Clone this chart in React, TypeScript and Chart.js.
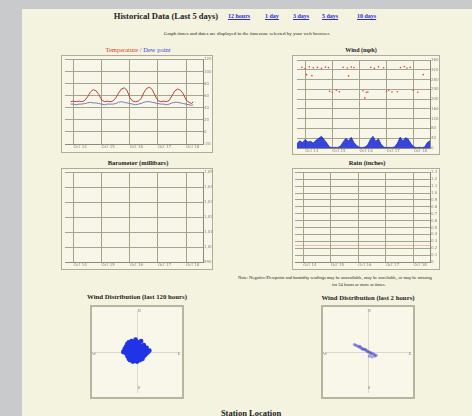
import React, { useEffect, useRef } from "react";
import { Chart, registerables } from "chart.js";

Chart.register(...registerables);

// ---------- data ----------
const dayTickPositions = [0.3, 1.3, 2.3, 3.3, 4.3];
const dayTickLabels = ["Oct 14", "Oct 15", "Oct 16", "Oct 17", "Oct 18"];

const tempDays = [0.2, 0.3, 0.4, 0.5, 0.6, 0.7, 0.8, 0.9, 1.0, 1.1, 1.2, 1.3, 1.4, 1.5, 1.6, 1.7, 1.8, 1.9, 2.0, 2.1, 2.2, 2.3, 2.4, 2.5, 2.6, 2.7, 2.8, 2.9, 3.0, 3.1, 3.2, 3.3, 3.4, 3.5, 3.6, 3.7, 3.8, 3.9, 4.0, 4.1, 4.2, 4.3, 4.4, 4.5, 4.55];
const temperature = [50, 51, 50, 51, 50, 52, 58, 66, 70, 68, 62, 53, 50, 51, 50, 51, 56, 64, 71, 73, 69, 57, 51, 50, 51, 55, 65, 72, 74, 70, 60, 52, 50, 51, 50, 52, 60, 68, 71, 69, 63, 53, 49, 47, 50];
const dewPoint = [46, 46, 45, 46, 46, 47, 48, 49, 48, 48, 47, 46, 45, 46, 46, 46, 47, 49, 50, 49, 48, 47, 46, 45, 46, 47, 49, 50, 50, 49, 48, 47, 46, 46, 45, 46, 48, 49, 49, 48, 47, 46, 45, 44, 45];

const windDirDays = [0.18, 0.3, 0.45, 0.6, 0.75, 0.9, 1.05, 1.16, 0.35, 0.55, 1.2, 1.3, 1.45, 1.56, 1.7, 1.85, 2.0, 2.1, 1.9, 2.43, 2.55, 2.61, 2.72, 2.85, 3.0, 3.19, 3.3, 3.38, 3.5, 3.7, 3.81, 3.95, 4.05, 4.17, 4.28, 4.45, 4.65, 2.5];
const windDirection = [330, 325, 332, 328, 330, 326, 331, 329, 300, 296, 232, 228, 236, 230, 330, 327, 331, 329, 295, 234, 228, 229, 330, 326, 332, 328, 232, 236, 229, 230, 329, 333, 327, 330, 236, 228, 300, 205];

const windSpeedDays = [0.0, 0.1, 0.2, 0.3, 0.4, 0.5, 0.6, 0.7, 0.8, 0.9, 1.0, 1.1, 1.2, 1.3, 1.4, 1.5, 1.6, 1.7, 1.8, 1.9, 2.0, 2.1, 2.2, 2.3, 2.4, 2.5, 2.6, 2.7, 2.8, 2.9, 3.0, 3.1, 3.2, 3.3, 3.4, 3.5, 3.6, 3.7, 3.8, 3.9, 4.0, 4.1, 4.2, 4.3, 4.4, 4.5, 4.6, 4.7, 4.8, 4.9];
const windSpeed = [18, 30, 22, 35, 25, 28, 20, 32, 40, 48, 35, 20, 4, 2, 3, 2, 8, 25, 40, 30, 44, 22, 10, 3, 2, 4, 12, 35, 48, 28, 38, 15, 4, 2, 3, 2, 5, 20, 45, 30, 42, 36, 18, 5, 2, 3, 2, 4, 22, 30];

const baroDays: number[] = [];
const barometer: number[] = [];

const rainDays = [0.0, 1.0, 2.0, 3.0, 4.0, 4.9];
const rainTotal = [0.24, 0.24, 0.24, 0.24, 0.24, 0.24];

const roseLongX = [-9, -8, -8, -7, -7, -7, -6, -6, -6, -6, -5, -5, -5, -5, -4, -4, -4, -4, -3, -3, -3, -3, -2, -2, -2, -2, -1, -1, -1, -1, -1, 0, 0, 0, 0, 1, 1, 1, 1, 2, 2, 2, 2, 3, 3, 3, 3, 4, 4, 4, 5, 5, 5, 6, 6, 7, 7, 8, -10, 9];
const roseLongY = [2, -1, 4, -3, 1, 6, -5, -1, 3, 7, -6, -2, 2, 5, -4, 0, 4, 8, -7, -2, 1, 6, -5, -1, 3, 7, -6, -3, 0, 4, 9, -7, -2, 2, 6, -5, -1, 3, 7, -6, -3, 1, 5, -4, 0, 4, 8, -5, -1, 3, -3, 1, 5, -2, 2, -1, 3, 0, 0, 1];

const roseShortX = [-10, -9, -8, -7, -6, -5, -4, -3, -2, -1, 0, 1, 2, 3, 4, 5, 6, -6, -4, -2, 0, 2, 1, 3, 5];
const roseShortY = [5.5, 5, 4.5, 4, 3.5, 3, 2.5, 2, 1.5, 1, 0.5, 0, -0.5, -1, -1.5, -2, -2.5, 4.2, 2, 2, 0, -1.2, -3, -3.5, -3];

// ---------- helpers ----------
const GRID = "#a4a38c";
const AXIS = "#8c8b76";
const TICK_FONT = { size: 4, family: "DejaVu Sans" };

function pairs(xs: number[], ys: number[]) {
  return xs.map((x, i) => ({ x, y: ys[i] }));
}

function seriesOptions(
  yMin: number,
  yMax: number,
  yStep: number,
  padLeft: number,
  padTop: number,
  xAxisH: number,
  yAxisW: number
): any {
  return {
    animation: false,
    responsive: false,
    events: [],
    layout: { padding: { left: padLeft, top: padTop, right: 0, bottom: 0 } },
    plugins: { legend: { display: false }, tooltip: { enabled: false } },
    scales: {
      x: {
        type: "linear",
        min: 0,
        max: 4.9,
        afterBuildTicks: (s: any) => {
          s.ticks = dayTickPositions.map((v) => ({ value: v }));
        },
        afterFit: (s: any) => {
          s.height = xAxisH;
        },
        grid: { color: GRID, lineWidth: 1, drawTicks: false },
        border: { color: AXIS },
        ticks: {
          align: "start",
          padding: 1,
          maxRotation: 0,
          autoSkip: false,
          font: TICK_FONT,
          color: "#8a897c",
          callback: (_v: any, i: number) => dayTickLabels[i],
        },
      },
      y: {
        position: "right",
        min: yMin,
        max: yMax,
        afterFit: (s: any) => {
          s.width = yAxisW;
        },
        grid: { color: GRID, lineWidth: 1, drawTicks: false },
        border: { color: AXIS },
        ticks: {
          stepSize: yStep,
          maxTicksLimit: 30,
          autoSkip: false,
          padding: 1,
          font: TICK_FONT,
          color: "#8a897c",
        },
      },
    },
  };
}

function roseOptions(): any {
  const zeroGrid = (ctx: any) =>
    ctx.tick && ctx.tick.value === 0 ? "rgba(150,150,135,0.3)" : "rgba(0,0,0,0)";
  return {
    animation: false,
    responsive: false,
    events: [],
    layout: { padding: 0 },
    plugins: { legend: { display: false }, tooltip: { enabled: false } },
    scales: {
      x: {
        type: "linear",
        min: -30,
        max: 30,
        ticks: { display: false, stepSize: 10 },
        border: { display: false },
        grid: { drawTicks: false, color: zeroGrid },
        afterFit: (s: any) => {
          s.height = 0;
        },
      },
      y: {
        type: "linear",
        min: -30,
        max: 30,
        ticks: { display: false, stepSize: 10 },
        border: { display: false },
        grid: { drawTicks: false, color: zeroGrid },
        afterFit: (s: any) => {
          s.width = 0;
        },
      },
    },
  };
}

function ChartBox(props: {
  left: number;
  top: number;
  width: number;
  height: number;
  border: number;
  borderColor: string;
  bg: string;
  build: () => any;
}) {
  const ref = useRef<HTMLCanvasElement>(null);
  const { left, top, width, height, border, borderColor, bg, build } = props;
  const cw = width - 2 * border;
  const ch = height - 2 * border;
  useEffect(() => {
    const chart = new Chart(ref.current as HTMLCanvasElement, build());
    return () => chart.destroy();
  }, []);
  return (
    <div
      style={{
        position: "absolute",
        left,
        top,
        width,
        height,
        boxSizing: "border-box",
        border: `${border}px solid ${borderColor}`,
        background: bg,
      }}
    >
      <canvas ref={ref} width={cw} height={ch} style={{ display: "block", width: cw, height: ch }} />
    </div>
  );
}

function Txt(props: {
  x: number;
  y: number;
  size: number;
  bold?: boolean;
  color?: string;
  center?: boolean;
  children: React.ReactNode;
  underline?: boolean;
}) {
  const { x, y, size, bold, color, center, children, underline } = props;
  return (
    <div
      style={{
        position: "absolute",
        left: x,
        top: y - size / 2,
        fontSize: size,
        lineHeight: `${size}px`,
        fontWeight: bold ? "bold" : "normal",
        color: color || "#1e1e1e",
        whiteSpace: "nowrap",
        transform: center ? "translateX(-50%)" : undefined,
        textDecoration: underline ? "underline" : "none",
      }}
    >
      {children}
    </div>
  );
}

export default function App() {
  const LINK = "#2b2bd6";
  return (
    <div
      style={{
        position: "fixed",
        left: 0,
        top: 0,
        width: 472,
        height: 416,
        overflow: "hidden",
        background: "#c9cacc",
        fontFamily: "'Liberation Serif', 'DejaVu Serif', serif",
      }}
    >
      <div
        style={{
          position: "absolute",
          left: 22,
          top: 9,
          width: 450,
          height: 407,
          background: "#f4f3df",
        }}
      />

      {/* header */}
      <Txt x={166} y={16} size={8.5} bold center>
        Historical Data (Last 5 days)
      </Txt>
      <Txt x={228} y={16} size={6} bold color={LINK} underline>12 hours</Txt>
      <Txt x={265} y={16} size={6} bold color={LINK} underline>1 day</Txt>
      <Txt x={293} y={16} size={6} bold color={LINK} underline>3 days</Txt>
      <Txt x={322} y={16} size={6} bold color={LINK} underline>5 days</Txt>
      <Txt x={357} y={16} size={6} bold color={LINK} underline>10 days</Txt>
      <Txt x={247} y={33} size={5} center>
        Graph times and dates are displayed in the timezone selected by your web browser.
      </Txt>

      {/* chart titles */}
      <Txt x={138} y={50} size={6.5} center>
        <span style={{ color: "#e0402a" }}>Temperature</span>
        <span style={{ color: "#3a4ad8" }}> / Dew point</span>
      </Txt>
      <Txt x={361} y={50} size={6} bold center>Wind (mph)</Txt>
      <Txt x={138} y={163} size={6.5} bold center>Barometer (millibars)</Txt>
      <Txt x={367} y={163} size={6.5} bold center>Rain (inches)</Txt>

      <ChartBox
        left={61}
        top={55}
        width={152}
        height={98}
        border={1}
        borderColor="#aeac96"
        bg="#f7f6e8"
        build={() => ({
          type: "line",
          data: {
            datasets: [
              {
                data: pairs(tempDays, dewPoint),
                borderColor: "#7a7ab8",
                borderWidth: 1,
                pointRadius: 0,
              },
              {
                data: pairs(tempDays, temperature),
                borderColor: "#b8403c",
                borderWidth: 1,
                pointRadius: 0,
              },
            ],
          },
          options: seriesOptions(-20, 120, 20, 3, 1, 8, 9),
        })}
      />

      <ChartBox
        left={292}
        top={55}
        width={148}
        height={100}
        border={1}
        borderColor="#aeac96"
        bg="#f7f6e8"
        build={() => ({
          type: "line",
          data: {
            datasets: [
              {
                data: pairs(windDirDays, windDirection),
                showLine: false,
                pointRadius: 0.8,
                pointBackgroundColor: "#e2403a",
                pointBorderWidth: 0,
              },
              {
                data: pairs(windSpeedDays, windSpeed),
                borderColor: "#1020b8",
                backgroundColor: "rgba(28,44,215,0.88)",
                borderWidth: 0.6,
                pointRadius: 0,
                fill: "origin",
              },
            ],
          },
          options: seriesOptions(0, 360, 40, 2, 1, 6, 9),
        })}
      />

      <ChartBox
        left={61}
        top={168}
        width={152}
        height={102}
        border={1}
        borderColor="#aeac96"
        bg="#f7f6e8"
        build={() => ({
          type: "line",
          data: {
            datasets: [
              {
                data: pairs(baroDays, barometer),
                borderColor: "#3a3a3a",
                borderWidth: 1,
                pointRadius: 0,
              },
            ],
          },
          options: seriesOptions(990, 1050, 10, 3, 1, 7, 9),
        })}
      />

      <ChartBox
        left={292}
        top={168}
        width={148}
        height={102}
        border={1}
        borderColor="#aeac96"
        bg="#f7f6e8"
        build={() => ({
          type: "line",
          data: {
            datasets: [
              {
                data: pairs(rainDays, rainTotal),
                borderColor: "rgba(220,120,120,0.45)",
                borderWidth: 1,
                pointRadius: 0,
              },
            ],
          },
          options: seriesOptions(0, 1.3, 0.1, 2, 1, 7, 9),
        })}
      />

      {/* note */}
      <Txt x={238} y={278} size={4.5}>
        Note: Negative/Dewpoint and humidity readings may be unavailable, may be unreliable, or may be missing
      </Txt>
      <Txt x={332} y={285} size={4.5}>
        for 24 hours or more at times.
      </Txt>

      {/* wind distribution */}
      <Txt x={137} y={297} size={6.8} bold center>Wind Distribution (last 120 hours)</Txt>
      <Txt x={368} y={298} size={6.8} bold center>Wind Distribution (last 2 hours)</Txt>

      <ChartBox
        left={90}
        top={305}
        width={94}
        height={94}
        border={2}
        borderColor="#b6b5a0"
        bg="#f8f7ea"
        build={() => ({
          type: "scatter",
          data: {
            datasets: [
              {
                data: pairs(roseLongX, roseLongY),
                pointRadius: 2.4,
                backgroundColor: "#2034e6",
                borderWidth: 0,
              },
            ],
          },
          options: roseOptions(),
        })}
      />
      <ChartBox
        left={321}
        top={305}
        width={94}
        height={94}
        border={2}
        borderColor="#b6b5a0"
        bg="#f8f7ea"
        build={() => ({
          type: "scatter",
          data: {
            datasets: [
              {
                data: pairs(roseShortX, roseShortY),
                pointRadius: 1.6,
                backgroundColor: "rgba(80,80,205,0.5)",
                borderWidth: 0,
              },
            ],
          },
          options: roseOptions(),
        })}
      />

      <Txt x={139} y={311} size={4.5} color="#777" center>N</Txt>
      <Txt x={94} y={354} size={4.5} color="#777" center>W</Txt>
      <Txt x={179} y={354} size={4.5} color="#777" center>E</Txt>
      <Txt x={139} y={388} size={4.5} color="#777" center>S</Txt>

      <Txt x={369} y={311} size={4.5} color="#777" center>N</Txt>
      <Txt x={325} y={354} size={4.5} color="#777" center>W</Txt>
      <Txt x={410} y={354} size={4.5} color="#777" center>E</Txt>
      <Txt x={369} y={388} size={4.5} color="#777" center>S</Txt>

      <Txt x={251} y={413} size={8.5} bold center>Station Location</Txt>
    </div>
  );
}
